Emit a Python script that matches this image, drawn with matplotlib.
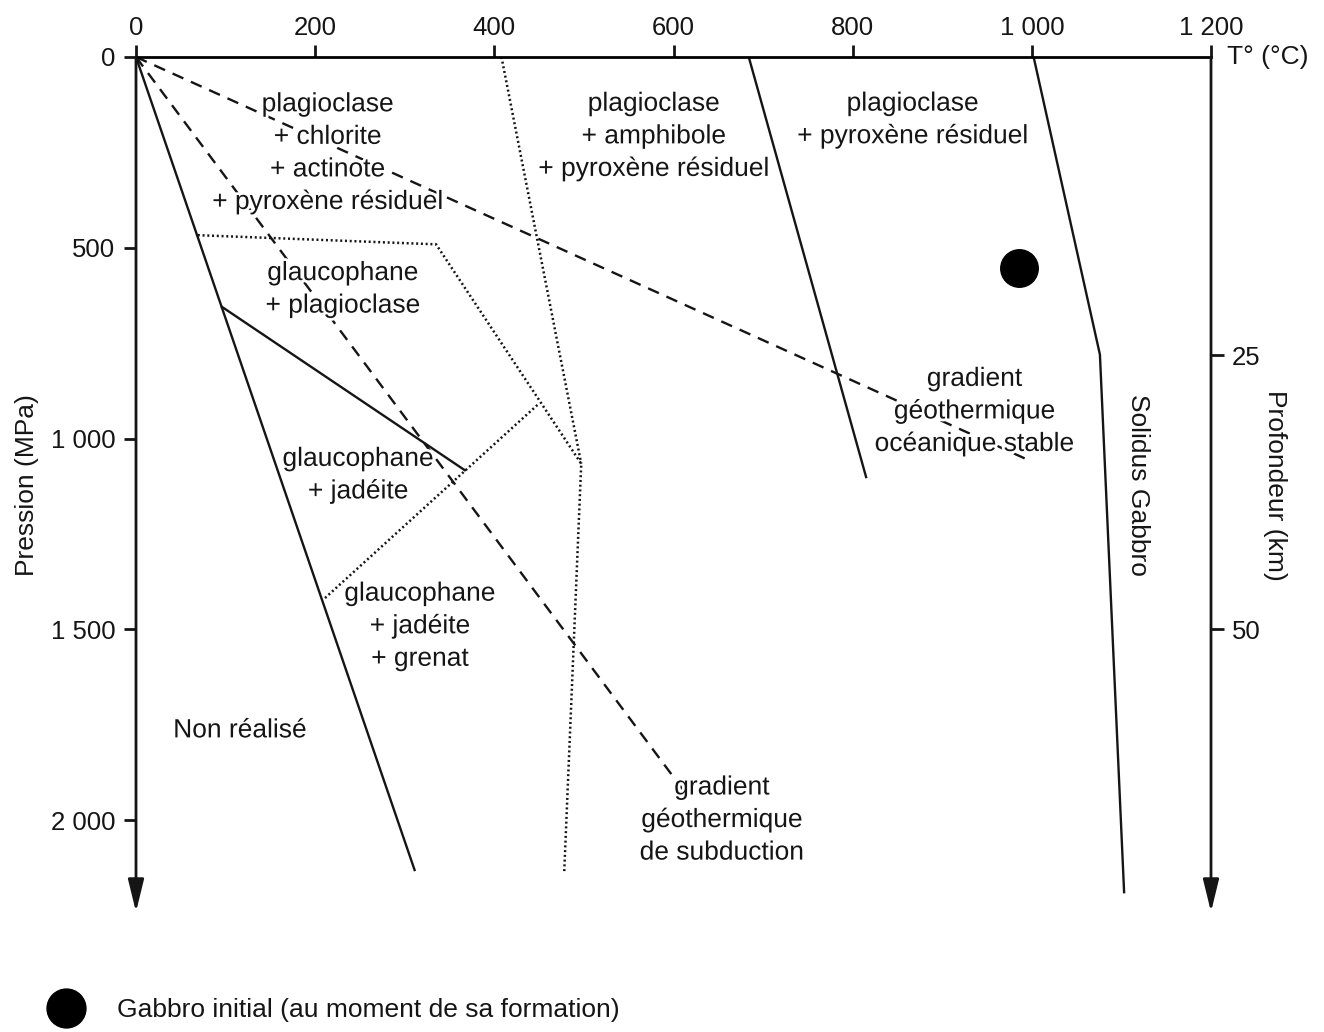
import numpy as np
import matplotlib
matplotlib.use('Agg')
import matplotlib.pyplot as plt
import matplotlib.patheffects as pe
from matplotlib.lines import Line2D

plt.rcParams['font.family'] = ['Liberation Sans', 'DejaVu Sans']

# limites de phases (T en degres C, P en MPa)
limite_gauche_T = [0, 311]
limite_gauche_P = [0, 2131]
limite_glauco_T = [96, 367]
limite_glauco_P = [655, 1083]
limite_amph_T = [684, 815]
limite_amph_P = [0, 1101]
solidus_T = [1002, 1076, 1103]
solidus_P = [0, 780, 2189]

# gradients geothermiques
grad_ocean_T = [0, 992]
grad_ocean_P = [0, 1052]
grad_subd_T = [0, 612]
grad_subd_P = [0, 1925]

# limites en pointilles
pointille1_T = [69, 335, 497, 478]
pointille1_P = [467, 491, 1066, 2137]
pointille2_T = [408, 497]
pointille2_P = [0, 1066]
pointille3_T = [211, 450]
pointille3_P = [1418, 908]

gabbro_T = [986]
gabbro_P = [554]

temp_ticks = [0, 200, 400, 600, 800, 1000, 1200]
temp_labels = ['0', '200', '400', '600', '800', '1 000', '1 200']
pres_ticks = [0, 500, 1000, 1500, 2000]
pres_labels = ['0', '500', '1 000', '1 500', '2 000']
prof_ticks = [782, 1500]
prof_labels = ['25', '50']

W, H = 1324, 1032
fig = plt.figure(figsize=(W / 100, H / 100), dpi=100)
x0, x1, y0, y1 = 136, 1211, 57, 912
ax = fig.add_axes([x0 / W, 1 - y1 / H, (x1 - x0) / W, (y1 - y0) / H])
Pmax = 2241
ax.set_xlim(0, 1200)
ax.set_ylim(Pmax, 0)

col = '#151515'
lw = 1.7
ax.plot(limite_gauche_T, limite_gauche_P, color=col, lw=lw)
ax.plot(limite_glauco_T, limite_glauco_P, color=col, lw=lw)
ax.plot(limite_amph_T, limite_amph_P, color=col, lw=lw)
ax.plot(solidus_T, solidus_P, color=col, lw=lw)

ax.plot(grad_ocean_T, grad_ocean_P, color=col, lw=lw, ls=(0, (5, 3.5)), zorder=1)
ax.plot(grad_subd_T, grad_subd_P, color=col, lw=lw, ls=(0, (5, 3.5)), zorder=1)

dots = (0, (0.8, 1.1))
ax.plot(pointille1_T, pointille1_P, color=col, lw=1.8, ls=dots)
ax.plot(pointille2_T, pointille2_P, color=col, lw=1.8, ls=dots)
ax.plot(pointille3_T, pointille3_P, color=col, lw=1.8, ls=dots)

ax.plot(gabbro_T, gabbro_P, 'o', color='black', ms=27)

# axes
for s in ['left', 'right', 'bottom']:
    ax.spines[s].set_visible(False)
ax.spines['top'].set_linewidth(2)
ax.xaxis.tick_top()
ax.set_xticks(temp_ticks)
ax.set_xticklabels(temp_labels)
ax.set_yticks(pres_ticks)
ax.set_yticklabels(pres_labels)
ax.tick_params(axis='both', direction='out', length=9, width=2,
               labelsize=18.5, colors=col, pad=6)
ax.tick_params(axis='x', pad=3)

for xv in [0, 1200]:
    ax.annotate('', xy=(xv, Pmax), xytext=(xv, 0), xycoords='data',
                arrowprops=dict(arrowstyle='-|>,head_length=0.9,head_width=0.22',
                                color=col, lw=2, mutation_scale=22,
                                shrinkA=0, shrinkB=0),
                annotation_clip=False)

ax2 = ax.twinx()
ax2.set_ylim(Pmax, 0)
for s in ax2.spines.values():
    s.set_visible(False)
ax2.set_yticks(prof_ticks)
ax2.set_yticklabels(prof_labels)
ax2.tick_params(axis='y', direction='out', length=9, width=2,
                labelsize=18.5, colors=col, pad=6)

fig.text(27 / W, 1 - 485 / H, 'Pression (MPa)', rotation=90, ha='center',
         va='center', fontsize=19, color=col)
fig.text(1275 / W, 1 - 485 / H, 'Profondeur (km)', rotation=-90, ha='center',
         va='center', fontsize=19, color=col)
fig.text(1268 / W, 1 - 57 / H, 'T° (°C)', ha='center', va='center',
         fontsize=19, color=col)

fs = 19
halo = [pe.withStroke(linewidth=4, foreground='white')]
txt = dict(ha='center', va='center', fontsize=fs, color=col, linespacing=1.45,
           path_effects=halo)
ax.text(214, 252, 'plagioclase\n+ chlorite\n+ actinote\n+ pyroxène résiduel', **txt)
ax.text(578, 208, 'plagioclase\n+ amphibole\n+ pyroxène résiduel', **txt)
ax.text(867, 165, 'plagioclase\n+ pyroxène résiduel', **txt)
ax.text(231, 609, 'glaucophane\n+ plagioclase', **txt)
ax.text(248, 1096, 'glaucophane\n+ jadéite', **txt)
ax.text(317, 1492, 'glaucophane\n+ jadéite\n+ grenat', **txt)
ax.text(116, 1765, 'Non réalisé', **txt)
ax.text(654, 2000, 'gradient\ngéothermique\nde subduction', **txt)
ax.text(936, 929, 'gradient\ngéothermique\nocéanique stable', **txt)
ax.text(1118, 1122, 'Solidus Gabbro', rotation=-90, ha='center', va='center',
        fontsize=fs, color=col)

# legende
handle = Line2D([], [], marker='o', color='black', ls='none', ms=28)
fig.legend([handle], ['Gabbro initial (au moment de sa formation)'],
           loc='center left', bbox_to_anchor=(40 / W, 1 - 1010 / H),
           frameon=False, fontsize=19, handlelength=1.0, handletextpad=1.4,
           borderpad=0, labelcolor=col)

fig.savefig('out.png', dpi=100)
